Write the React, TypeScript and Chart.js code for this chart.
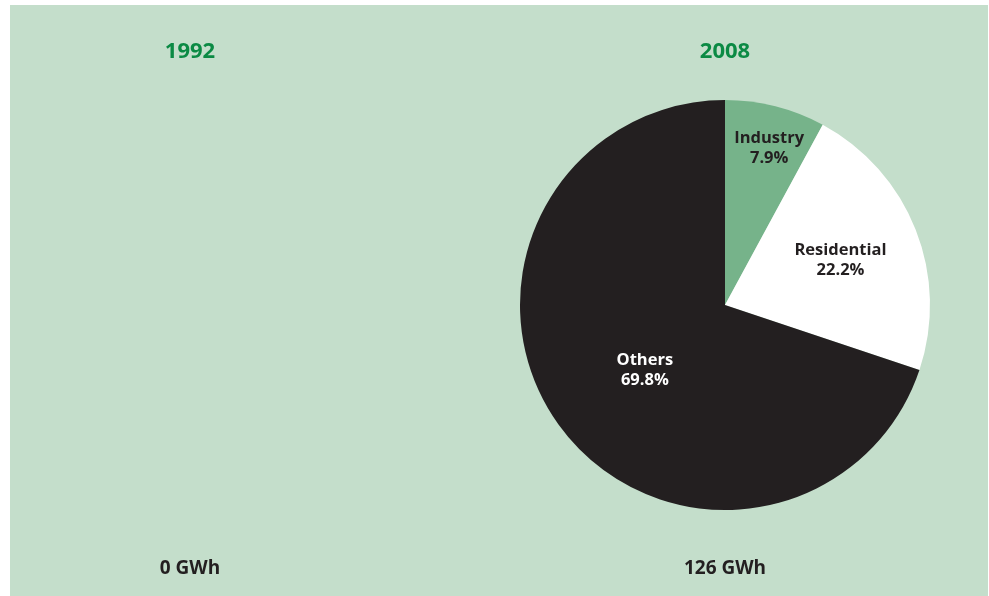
import React, { useEffect, useRef } from "react";
import { Chart, registerables } from "chart.js";

Chart.register(...registerables);

const categories = ["Industry", "Residential", "Others"];
const years = ["1992", "2008"];
const totals = ["0 GWh", "126 GWh"];
const shares1992 = [0, 0, 0];
const shares2008 = [7.9, 22.2, 69.8];

const sliceColors = ["#76b38a", "#ffffff", "#231f20"];
const labelColors = ["#231f20", "#231f20", "#ffffff"];
const labelRadius = [0.795, 0.605, 0.503];
const labelAngleShift = [0.026, 0.003, -0.056];
const FONT = "'Open Sans', 'DejaVu Sans', sans-serif";

const sliceLabels = {
  id: "sliceLabels",
  afterDatasetsDraw(chart: any) {
    const ctx = chart.ctx;
    const meta = chart.getDatasetMeta(0);
    const data = chart.data.datasets[0].data as number[];
    meta.data.forEach((arc: any, i: number) => {
      const v = data[i];
      if (!v) return;
      const { x, y, startAngle, endAngle, outerRadius } = arc.getProps(
        ["x", "y", "startAngle", "endAngle", "outerRadius"],
        true
      );
      const mid = (startAngle + endAngle) / 2 + labelAngleShift[i];
      const r = outerRadius * labelRadius[i];
      const px = x + Math.cos(mid) * r;
      const py = y + Math.sin(mid) * r;
      ctx.save();
      ctx.font = `bold 16.5px ${FONT}`;
      ctx.fillStyle = labelColors[i];
      ctx.textAlign = "center";
      ctx.textBaseline = "middle";
      ctx.fillText(String(chart.data.labels[i]), px, py - 9.5);
      ctx.fillText(v.toFixed(1) + "%", px, py + 10);
      ctx.restore();
    });
  },
};

function PieChart(props: {
  year: string;
  total: string;
  values: number[];
  width: number;
  height: number;
}) {
  const ref = useRef<HTMLCanvasElement | null>(null);
  useEffect(() => {
    if (!ref.current) return;
    const chart = new Chart(ref.current, {
      type: "pie",
      data: {
        labels: categories,
        datasets: [
          {
            data: props.values,
            backgroundColor: sliceColors,
            borderWidth: 0,
            hoverOffset: 0,
            offset: 0,
          },
        ],
      },
      options: {
        responsive: false,
        animation: false,
        events: [],
        layout: { padding: 0 },
        plugins: {
          legend: { display: false },
          tooltip: { enabled: false },
          title: {
            display: true,
            text: props.year,
            color: "#0b8a44",
            font: { size: 22, weight: "bold", family: FONT },
            padding: { top: 33.8, bottom: 34.8 },
          },
          subtitle: {
            display: true,
            position: "bottom",
            text: props.total,
            color: "#231f20",
            font: { size: 19, weight: "bold", family: FONT },
            padding: { top: 47.6, bottom: 15.6 },
          },
        },
      },
      plugins: [sliceLabels],
    } as any);
    return () => chart.destroy();
  }, []);
  return (
    <canvas
      ref={ref}
      width={props.width}
      height={props.height}
      style={{ width: props.width, height: props.height, display: "block" }}
    />
  );
}

export default function App() {
  return (
    <div
      style={{
        position: "absolute",
        left: 0,
        top: 0,
        width: 989,
        height: 596,
        background: "#ffffff",
        overflow: "hidden",
      }}
    >
      <div
        style={{
          position: "absolute",
          left: 10,
          top: 5,
          width: 978,
          height: 591,
          background: "#c4decb",
        }}
      />
      <div style={{ position: "absolute", left: 10, top: 5 }}>
        <PieChart year={years[0]} total={totals[0]} values={shares1992} width={360} height={591} />
      </div>
      <div style={{ position: "absolute", left: 462, top: 5 }}>
        <PieChart year={years[1]} total={totals[1]} values={shares2008} width={526} height={591} />
      </div>
    </div>
  );
}
